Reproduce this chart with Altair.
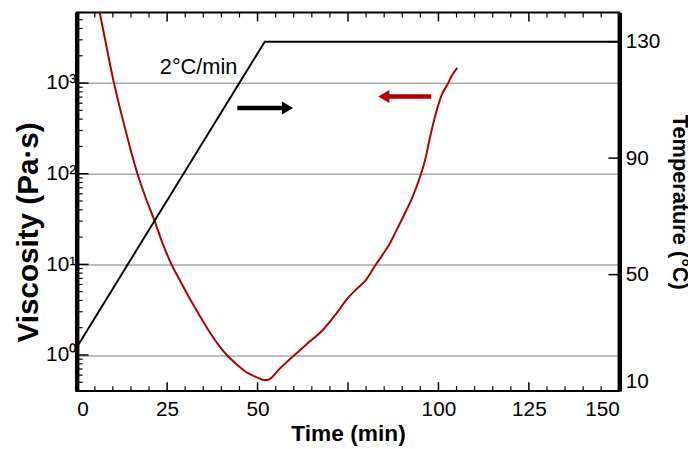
import altair as alt
import pandas as pd

# ---------------- data ----------------
time_visc = [6.3, 8.3, 10.3, 11.8, 13.3, 15.0, 16.8, 19.1, 21.4, 23.8, 26.2, 28.4,
             30.5, 32.4, 34.2, 36.0, 37.8, 39.6, 41.5, 44.2, 46.9, 49.5,
             52.0, 52.7, 56.3, 59.9, 63.5, 68.1, 71.7, 75.3, 77.6, 79.9, 82.7,
             84.4, 86.2, 88.5, 90.8, 93.0, 95.2, 96.3, 97.6, 99.0, 100.9, 102.7,
             103.6, 104.4, 105.2]
viscosity = [6200, 2450, 1000, 560, 326, 178, 100, 54.0, 31.2, 16.8, 10.0, 6.8,
             4.75, 3.5, 2.62, 2.0, 1.55, 1.23, 1.0, 0.79, 0.645, 0.575,
             0.53, 0.53, 0.72, 0.975, 1.31, 1.90, 2.85, 4.40, 5.45, 6.67, 9.96,
             12.5, 16.0, 24.2, 37.1, 57.5, 100, 141, 245, 419, 740, 1000,
             1192, 1330, 1468]

time_temp = [0, 52.0, 150]
temperature = [25, 130, 130]

x_major = [0, 25, 50, 75, 100, 125, 150]
x_hidden_label = [75]
x_minor = [t for t in range(0, 151, 5) if t % 25 != 0]

y_major = [1, 10, 100, 1000]
y_major_labels = ["10⁰", "10¹", "10²", "10³"]
y_minor = [0.4, 0.5, 0.6, 0.7, 0.8, 0.9,
           2, 3, 4, 5, 6, 7, 8, 9,
           20, 30, 40, 50, 60, 70, 80, 90,
           200, 300, 400, 500, 600, 700, 800, 900,
           2000, 3000, 4000, 5000, 6000]
temp_ticks = [10, 50, 90, 130]

arrow_tail = [44.4, 98.0]
arrow_base = [57.0, 86.2]
arrow_head = [58.3, 84.9]
arrow_level = [530, 711]
arrow_dir = ["right", "left"]
arrow_color = ["#000000", "#B00000"]

annot_time = [33.7]
annot_visc = [1510]
annot_text = ["2°C/min"]

RED = "#B00000"
FONT = "Liberation Sans"
W, H = 549, 383

# ---------------- tables ----------------
df_visc = pd.DataFrame({"t": time_visc, "v": viscosity})
df_temp = pd.DataFrame({"t": time_temp, "T": temperature})
df_arrow = pd.DataFrame({"t0": arrow_tail, "t1": arrow_base, "th": arrow_head,
                         "v": arrow_level, "dir": arrow_dir, "c": arrow_color})
df_text = pd.DataFrame({"t": annot_time, "v": annot_visc, "txt": annot_text})
df_xmajor = pd.DataFrame({"t": x_major})
df_xminor = pd.DataFrame({"t": x_minor})
df_ymajor = pd.DataFrame({"v": y_major})
df_yminor = pd.DataFrame({"v": y_minor})
df_tticks = pd.DataFrame({"T": temp_ticks})

xs = alt.Scale(domain=[0, 150], nice=False, zero=False)
ys_log = alt.Scale(type="log", domain=[0.4, 6000], nice=False)
ys_temp = alt.Scale(domain=[10, 140], nice=False, zero=False)

hide_expr = " || ".join(f"datum.value == {v}" for v in x_hidden_label)
x_label_expr = f"({hide_expr}) ? '' : datum.label"
y_label_expr = " : ".join(f"datum.value == {v} ? '{l}'" for v, l in zip(y_major, y_major_labels)) + " : ''"

ax_bottom_labels = alt.Axis(orient="bottom", values=x_major, labelExpr=x_label_expr,
                            ticks=False, domain=False, grid=False,
                            labelPadding=8, labelFontSize=21, labelFont=FONT, labelColor="black",
                            title="Time (min)", titleFont=FONT, titleFontSize=23,
                            titleFontWeight="bold", titleColor="black", titlePadding=3)
ax_left_labels = alt.Axis(orient="left", values=y_major, labelExpr=y_label_expr,
                          ticks=False, labelPadding=1, labelFontSize=21,
                          labelFont=FONT, labelColor="black",
                          domainWidth=4.5, domainColor="black", grid=False,
                          title="Viscosity (Pa·s)", titleFont=FONT, titleFontSize=30,
                          titleFontWeight="bold", titleColor="black", titlePadding=2,
                          titleY=222)
ax_right_labels = alt.Axis(orient="right", values=temp_ticks, ticks=False,
                           labelPadding=6, labelFontSize=21, labelFont=FONT,
                           labelColor="black", labelFlush=True, domainWidth=4.5,
                           domainColor="black", grid=False, title="Temperature (°C)",
                           titleFont=FONT, titleFontSize=22, titleFontWeight="bold",
                           titleColor="black", titleAngle=90, titlePadding=8)
ax_left_grid = alt.Axis(orient="left", values=y_major, labels=False, ticks=False, domain=False,
                        grid=True, gridColor="#A8A8A8", gridWidth=1.5, title=None)

visc_line = alt.Chart(df_visc).mark_line(color=RED, strokeWidth=2, clip=True,
                                         interpolate="monotone").encode(
    x=alt.X("t:Q", scale=xs, axis=ax_bottom_labels),
    y=alt.Y("v:Q", scale=ys_log, axis=ax_left_labels),
)

temp_line = alt.Chart(df_temp).mark_line(color="black", strokeWidth=2, clip=True).encode(
    x=alt.X("t:Q", scale=xs, axis=None),
    y=alt.Y("T:Q", scale=ys_temp, axis=ax_right_labels),
)

annot = alt.Chart(df_text).mark_text(font=FONT, fontSize=22, color="black",
                                     align="center", baseline="middle").encode(
    x=alt.X("t:Q", scale=xs, axis=None),
    y=alt.Y("v:Q", scale=ys_log, axis=ax_left_grid),
    text="txt:N",
)

arrow_shaft = alt.Chart(df_arrow).mark_rule(strokeWidth=4.5).encode(
    x=alt.X("t0:Q", scale=xs, axis=None),
    x2="t1:Q",
    y=alt.Y("v:Q", scale=ys_log, axis=None),
    color=alt.Color("c:N", scale=None),
)

arrow_tip = alt.Chart(df_arrow).mark_point(filled=True, size=170, opacity=1).encode(
    x=alt.X("th:Q", scale=xs, axis=None),
    y=alt.Y("v:Q", scale=ys_log, axis=None),
    shape=alt.Shape("dir:N", scale=alt.Scale(domain=["right", "left"],
                                             range=["triangle-right", "triangle-left"]),
                    legend=None),
    color=alt.Color("c:N", scale=None),
)

# frame ticks pointing into the plot (tick positions come from the tick lists through the scales)
bottom_major = alt.Chart(df_xmajor).mark_rule(color="black", strokeWidth=1.5).encode(
    x=alt.X("t:Q", scale=xs, axis=None), y=alt.value(H), y2=alt.value(H - 9))
bottom_minor = alt.Chart(df_xminor).mark_rule(color="black", strokeWidth=1.2).encode(
    x=alt.X("t:Q", scale=xs, axis=None), y=alt.value(H), y2=alt.value(H - 5))
top_major = alt.Chart(df_xmajor).mark_rule(color="black", strokeWidth=1.5).encode(
    x=alt.X("t:Q", scale=xs, axis=None), y=alt.value(0), y2=alt.value(9))
top_minor = alt.Chart(df_xminor).mark_rule(color="black", strokeWidth=1.2).encode(
    x=alt.X("t:Q", scale=xs, axis=None), y=alt.value(0), y2=alt.value(5))
left_major = alt.Chart(df_ymajor).mark_rule(color="black", strokeWidth=1.5).encode(
    y=alt.Y("v:Q", scale=ys_log, axis=None), x=alt.value(0), x2=alt.value(12))
left_minor = alt.Chart(df_yminor).mark_rule(color="black", strokeWidth=1.2).encode(
    y=alt.Y("v:Q", scale=ys_log, axis=None), x=alt.value(0), x2=alt.value(6))
right_major = alt.Chart(df_tticks).mark_rule(color="black", strokeWidth=1.5).encode(
    y=alt.Y("T:Q", scale=ys_temp, axis=None), x=alt.value(W), x2=alt.value(W - 11))

layers = [visc_line, temp_line, annot, arrow_shaft, arrow_tip,
          bottom_major, bottom_minor, top_major, top_minor,
          left_major, left_minor, right_major]

chart = alt.layer(*layers).resolve_scale(
    y="independent"
).resolve_axis(
    x="independent", y="independent"
).properties(
    width=W, height=H,
    autosize=alt.AutoSizeParams(type="none"),
    padding={"left": 69.5, "top": 2, "right": 69.5, "bottom": 55},
    background="white",
).configure_view(stroke="black", strokeWidth=2)

chart.save("out.html", embed_options={"renderer": "svg", "actions": False})
